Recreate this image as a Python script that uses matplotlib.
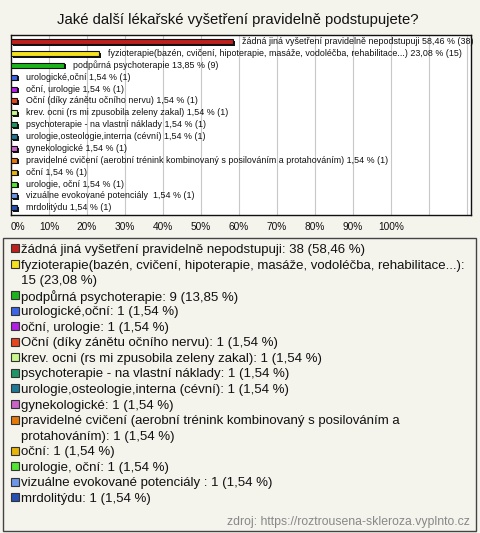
import numpy as np
import matplotlib as mpl
mpl.use('Agg')
import matplotlib.pyplot as plt
import matplotlib.transforms as mtransforms
from matplotlib.patches import Rectangle

plt.rcParams['font.family'] = ['Liberation Sans', 'DejaVu Sans']

# ----------------------------------------------------------------------
# --- data

title = 'Jaké další lékařské vyšetření pravidelně podstupujete?'
source = 'zdroj: https://roztrousena-skleroza.vyplnto.cz'

categories = [
    'žádná jiná vyšetření pravidelně nepodstupuji',
    'fyzioterapie(bazén, cvičení, hipoterapie, masáže, vodoléčba, rehabilitace...)',
    'podpůrná psychoterapie',
    'urologické,oční',
    'oční, urologie',
    'Oční (díky zánětu očního nervu)',
    'krev. ocni (rs mi zpusobila zeleny zakal)',
    'psychoterapie - na vlastní náklady',
    'urologie,osteologie,interna (cévní)',
    'gynekologické',
    'pravidelné cvičení (aerobní trénink kombinovaný s posilováním a protahováním)',
    'oční',
    'urologie, oční',
    'vizuálne evokované potenciály ',
    'mrdolitýdu',
]
counts = [38, 15, 9, 1, 1, 1, 1, 1, 1, 1, 1, 1, 1, 1, 1]
percents = [58.46, 23.08, 13.85, 1.54, 1.54, 1.54, 1.54, 1.54, 1.54, 1.54, 1.54, 1.54, 1.54, 1.54, 1.54]
colors = ['#c0201c', '#f5e11e', '#1cb41c', '#3c64e6', '#b41ee6', '#e6461e', '#c8f58c',
          '#1e9664', '#1e7896', '#c864c8', '#e6780a', '#e6b40a', '#50e632', '#6e96e6', '#2850b4']

xticks = np.arange(0, 101, 10)
xgrid = np.arange(10, 121, 10)

W, H = 480, 533
bg = '#f4f3ec'

fig = plt.figure(figsize=(W/100, H/100), dpi=100, facecolor=bg)


def fx(px):
    return px/W


def fy(py):
    return 1 - py/H


def pct(p):
    return f'{p:.2f}'.replace('.', ',')


fig.text(fx(238), fy(20), title, ha='center', va='center', fontsize=10.7, color='#111111')

# --- bar chart
ax = fig.add_axes([fx(11), fy(215), fx(471)-fx(11), (215-35)/H])
ax.set_facecolor('white')
n = len(categories)
y = np.arange(n)
ax.set_xlim(0, 460/380*100)
ax.set_ylim(n-0.4, -0.55)
for g in xgrid:
    ax.axvline(g, color='#c8c8c8', lw=0.8, zorder=0)

shadow = mtransforms.offset_copy(ax.transData, fig=fig, x=2, y=-1.6, units='dots')
ax.barh(y, percents, height=0.42, color='#111111', left=0, transform=shadow, zorder=2)
ax.barh(y, percents, height=0.42, color=colors, edgecolor='#111111', lw=0.8, zorder=3)

for yi, cat, p, c in zip(y, categories, percents, counts):
    lab = f'{cat} {pct(p)} % ({c})'
    ax.annotate(lab, xy=(p, yi), xytext=(9, 0), textcoords='offset pixels',
                ha='left', va='center', fontsize=6.4, color='#111111', zorder=4,
                annotation_clip=False)

ax.set_xticks([])
ax.set_yticks([])
for s in ax.spines.values():
    s.set_color('#111111')
    s.set_linewidth(1)

for t in xticks:
    px = 11 + t*3.8
    fig.text(fx(px), fy(227), f'{t}%', ha='left' if t == 0 else 'center', va='center',
             fontsize=7.3, color='#111111')

# --- legend box
fig.patches.append(Rectangle((fx(3), fy(531)), fx(476)-fx(3), (531-238)/H, transform=fig.transFigure,
                             fill=False, edgecolor='#444444', lw=1))

renderer = fig.canvas.get_renderer()
line_h = 15.55
line = 0
max_w = 449
lfs = 9.5
for cat, c, p, col in zip(categories, counts, percents, colors):
    txt = f'{cat}: {c} ({pct(p)} %)'
    # word wrap by pixel width
    words = txt.split(' ')
    lines, cur = [], ''
    for w in words:
        trial = w if cur == '' else cur + ' ' + w
        t = fig.text(0, 0, trial, fontsize=lfs)
        wd = t.get_window_extent(renderer).width
        t.remove()
        if wd > max_w and cur != '':
            lines.append(cur)
            cur = w
        else:
            cur = trial
    lines.append(cur)
    py = 250 + line*line_h
    fig.patches.append(Rectangle((fx(11), fy(py+2.5)), 8/W, 8/H, transform=fig.transFigure,
                                 facecolor=col, edgecolor='#333333', lw=0.8))
    for k, ln in enumerate(lines):
        fig.text(fx(21), fy(py + k*line_h), ln, ha='left', va='center', fontsize=lfs, color='#111111')
    line += len(lines)

fig.text(fx(470), fy(522), source, ha='right', va='center', fontsize=8.8, color='#888888')

fig.savefig('out.png', dpi=100, facecolor=bg)
